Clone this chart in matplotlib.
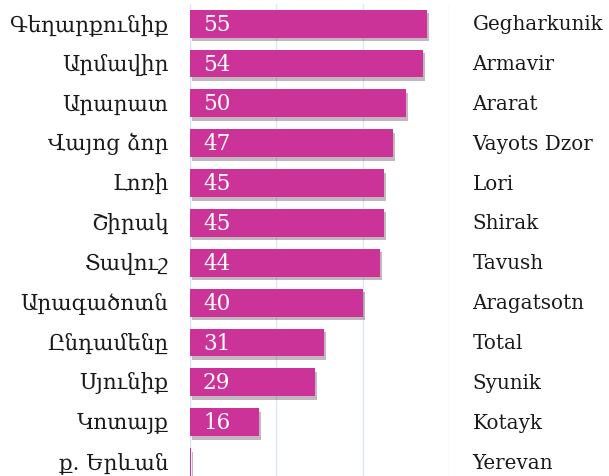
import matplotlib
matplotlib.use('Agg')
from matplotlib import pyplot as plt
from matplotlib import patheffects as pe

# Regions, Armenian and English names, values (top to bottom)
labels_hy = ['Գեղարքունիք', 'Արմավիր', 'Արարատ', 'Վայոց ձոր', 'Լոռի', 'Շիրակ',
             'Տավուշ', 'Արագածոտն', 'Ընդամենը', 'Սյունիք', 'Կոտայք', 'ք. Երևան']
labels_en = ['Gegharkunik', 'Armavir', 'Ararat', 'Vayots Dzor', 'Lori', 'Shirak',
             'Tavush', 'Aragatsotn', 'Total', 'Syunik', 'Kotayk', 'Yerevan']
values = [55, 54, 50, 47, 45, 45, 44, 40, 31, 29, 16, 0.2]
value_text = ['55', '54', '50', '47', '45', '45', '44', '40', '31', '29', '16', '']
x_ticks = [0, 20, 40, 60]

bar_color = '#cc3399'
grid_color = '#dce6f2'

fig = plt.figure(figsize=(6.09, 4.77), dpi=100)
ax = fig.add_axes([0.312, 0.0, 0.425, 0.99])

rows = list(range(len(values)))
bars = ax.barh(rows, values, height=0.7, color=bar_color, zorder=3)
for b in bars:
    b.set_path_effects([pe.SimplePatchShadow(offset=(1.5, -2.5), alpha=0.3), pe.Normal()])

ax.set_xlim(0, 60)
ax.set_ylim(11.35, -0.5)
ax.set_xticks(x_ticks)
ax.grid(axis='x', color=grid_color, linewidth=1, zorder=0)
ax.tick_params(left=False, bottom=False, labelbottom=False, labelleft=False)
for side in ['top', 'right', 'bottom']:
    ax.spines[side].set_visible(False)
ax.spines['left'].set_color(grid_color)

for i in rows:
    ax.text(-5, i, labels_hy[i], ha='right', va='center', fontsize=15.5,
            family=['DejaVu Serif'], color='#1a1a1a')
    ax.text(65.5, i, labels_en[i], ha='left', va='center', fontsize=14.3,
            family=['DejaVu Serif'], color='#1a1a1a')
    if value_text[i]:
        ax.text(3, i, value_text[i], ha='left', va='center', fontsize=15.5,
                family=['DejaVu Serif'], color='white', zorder=4)

fig.savefig('out.png', dpi=100)
